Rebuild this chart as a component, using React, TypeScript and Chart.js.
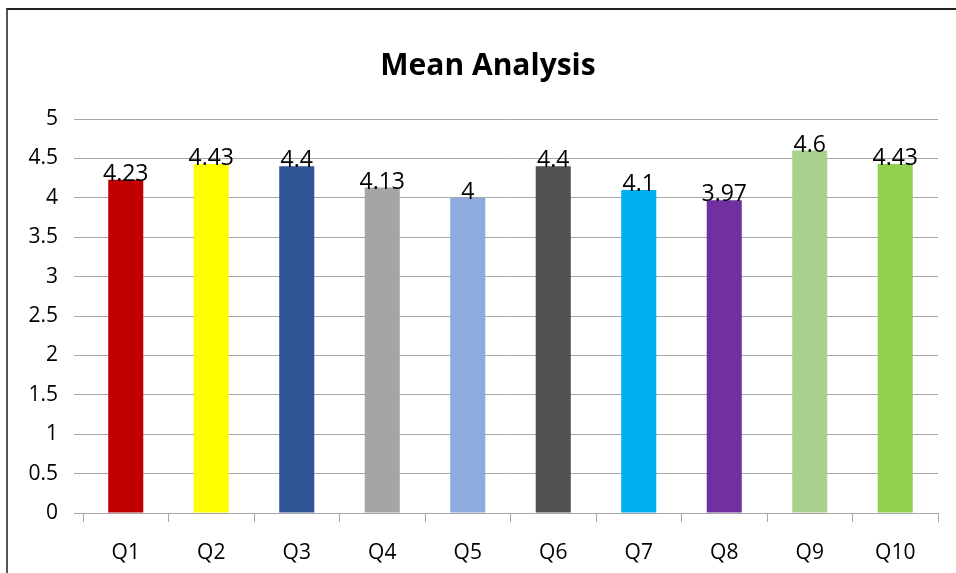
import React, { useEffect, useRef } from "react";
import { Chart, registerables } from "chart.js";

Chart.register(...registerables);

const categories = ["Q1", "Q2", "Q3", "Q4", "Q5", "Q6", "Q7", "Q8", "Q9", "Q10"];
const meanValues = [4.23, 4.43, 4.4, 4.13, 4, 4.4, 4.1, 3.97, 4.6, 4.43];
const barColors = [
  "#C00000",
  "#FFFF00",
  "#2F5597",
  "#A5A5A5",
  "#8FAADC",
  "#505050",
  "#00B0F0",
  "#7030A0",
  "#A9D18E",
  "#92D050",
];
const titleText = "Mean Analysis";
const yMin = 0;
const yMax = 5;
const yStep = 0.5;

const FONT = "'Open Sans', Lato, sans-serif";

const valueLabelPlugin = {
  id: "valueLabels",
  afterDatasetsDraw(chart: any) {
    const ctx = chart.ctx;
    const meta = chart.getDatasetMeta(0);
    const data = chart.data.datasets[0].data;
    ctx.save();
    ctx.font = `23px ${FONT}`;
    ctx.fillStyle = "#000";
    ctx.textAlign = "center";
    ctx.textBaseline = "alphabetic";
    meta.data.forEach((bar: any, i: number) => {
      ctx.fillText(String(data[i]), bar.x, bar.y + 1);
    });
    ctx.restore();
  },
};

const titlePlugin = {
  id: "chartTitleText",
  afterDraw(chart: any) {
    const ctx = chart.ctx;
    ctx.save();
    ctx.font = `bold 30px ${FONT}`;
    ctx.fillStyle = "#000";
    ctx.textAlign = "center";
    ctx.textBaseline = "alphabetic";
    ctx.fillText(titleText, 488, 75);
    ctx.restore();
  },
};

export default function App() {
  const canvasRef = useRef<HTMLCanvasElement | null>(null);

  useEffect(() => {
    if (!canvasRef.current) return;
    const chart = new Chart(canvasRef.current, {
      type: "bar",
      data: {
        labels: categories,
        datasets: [
          {
            data: meanValues,
            backgroundColor: barColors,
            borderWidth: 0,
            barPercentage: 0.41,
            categoryPercentage: 1,
          },
        ],
      },
      options: {
        responsive: false,
        devicePixelRatio: 1,
        animation: false,
        layout: { padding: { left: 0, right: 18, top: 119, bottom: 0 } },
        plugins: {
          legend: { display: false },
          tooltip: { enabled: false },
          title: { display: false },
        },
        scales: {
          x: {
            afterFit: (scale: any) => {
              scale.height = 60;
            },
            grid: {
              offset: true,
              drawOnChartArea: false,
              drawTicks: true,
              tickLength: 9,
              color: "#A6A6A6",
            },
            border: { display: true, color: "#A6A6A6" },
            ticks: {
              color: "#000",
              font: { family: FONT, size: 21 },
              padding: 18,
              maxRotation: 0,
            },
          },
          y: {
            min: yMin,
            max: yMax,
            afterFit: (scale: any) => {
              scale.width = 83;
            },
            grid: {
              color: "#A6A6A6",
              drawTicks: true,
              tickLength: 9,
            },
            border: { display: false },
            ticks: {
              stepSize: yStep,
              color: "#000",
              font: { family: FONT, size: 21 },
              padding: 16,
              callback: (v: any) => String(v),
            },
          },
        },
      },
      plugins: [valueLabelPlugin, titlePlugin],
    });
    return () => chart.destroy();
  }, []);

  return (
    <div
      style={{
        position: "fixed",
        left: 0,
        top: 0,
        width: 956,
        height: 573,
        background: "#fff",
        overflow: "hidden",
      }}
    >
      <div
        style={{
          position: "absolute",
          left: 6,
          top: 8,
          width: 1200,
          height: 1200,
          borderLeft: "2px solid #555",
          borderTop: "2px solid #222",
        }}
      />
      <canvas
        ref={canvasRef}
        width={956}
        height={573}
        style={{ position: "absolute", left: 0, top: 0, width: 956, height: 573 }}
      />
    </div>
  );
}
